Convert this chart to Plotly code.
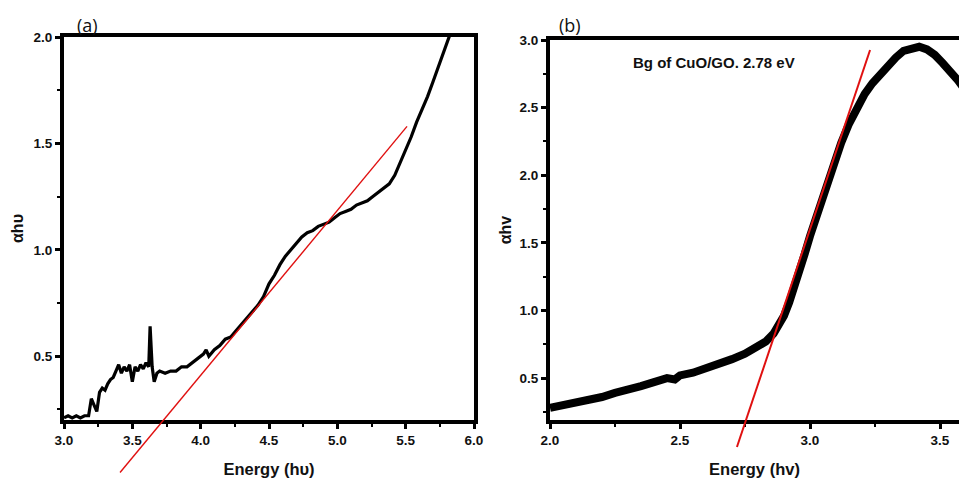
import plotly.graph_objects as go

# ---------------- data: panel (a) ----------------
a_energy = [3.00, 3.03, 3.06, 3.09, 3.12, 3.15, 3.18, 3.20, 3.22, 3.24, 3.26, 3.28, 3.30, 3.32,
            3.34, 3.36, 3.38, 3.40, 3.42, 3.44, 3.46, 3.48, 3.50, 3.52, 3.54, 3.56, 3.58, 3.60,
            3.62, 3.63, 3.645, 3.66, 3.68, 3.70, 3.74, 3.78, 3.82, 3.86, 3.90, 3.94, 3.98, 4.02,
            4.04, 4.06, 4.10, 4.14, 4.18, 4.22, 4.26, 4.30, 4.34, 4.38, 4.42, 4.46, 4.50, 4.54,
            4.58, 4.62, 4.66, 4.70, 4.74, 4.78, 4.82, 4.86, 4.90, 4.94, 4.98, 5.02, 5.06, 5.10,
            5.14, 5.18, 5.22, 5.26, 5.30, 5.34, 5.38, 5.42, 5.46, 5.50, 5.54, 5.58, 5.62, 5.66,
            5.70, 5.74, 5.78, 5.82, 5.84]
a_ahv = [0.21, 0.22, 0.21, 0.22, 0.21, 0.22, 0.22, 0.30, 0.27, 0.24, 0.33, 0.35, 0.34, 0.37,
         0.39, 0.40, 0.43, 0.46, 0.42, 0.45, 0.43, 0.46, 0.38, 0.45, 0.43, 0.46, 0.44, 0.47,
         0.45, 0.64, 0.45, 0.38, 0.42, 0.43, 0.42, 0.43, 0.43, 0.45, 0.45, 0.47, 0.49, 0.51,
         0.53, 0.50, 0.53, 0.55, 0.58, 0.59, 0.62, 0.65, 0.68, 0.71, 0.74, 0.78, 0.84, 0.88,
         0.93, 0.97, 1.00, 1.03, 1.06, 1.08, 1.09, 1.11, 1.12, 1.13, 1.15, 1.17, 1.18, 1.19,
         1.21, 1.22, 1.23, 1.25, 1.27, 1.29, 1.31, 1.35, 1.41, 1.47, 1.53, 1.60, 1.66, 1.72,
         1.79, 1.86, 1.93, 2.00, 2.04]
a_fit_x = [3.41, 5.51]
a_fit_y = [-0.047, 1.58]

# ---------------- data: panel (b) ----------------
b_energy = [2.00, 2.05, 2.10, 2.15, 2.20, 2.25, 2.30, 2.35, 2.40, 2.45, 2.48, 2.50, 2.55, 2.60,
            2.65, 2.70, 2.75, 2.80, 2.83, 2.86, 2.88, 2.90, 2.92, 2.94, 2.96, 2.98, 3.00, 3.02,
            3.04, 3.06, 3.08, 3.10, 3.12, 3.15, 3.18, 3.21, 3.24, 3.27, 3.30, 3.33, 3.36, 3.39,
            3.42, 3.45, 3.48, 3.51, 3.54, 3.57, 3.60]
b_ahv = [0.28, 0.30, 0.31, 0.34, 0.36, 0.39, 0.41, 0.44, 0.47, 0.50, 0.49, 0.52, 0.54, 0.57,
         0.60, 0.64, 0.68, 0.73, 0.77, 0.83, 0.89, 0.96, 1.06, 1.17, 1.29, 1.42, 1.55, 1.67,
         1.79, 1.91, 2.03, 2.14, 2.24, 2.38, 2.50, 2.60, 2.68, 2.75, 2.81, 2.87, 2.92, 2.94,
         2.95, 2.93, 2.89, 2.83, 2.77, 2.70, 2.62]
b_fit_x = [2.719, 3.231]
b_fit_y = [-0.01, 2.926]

a_xticks = [3.0, 3.5, 4.0, 4.5, 5.0, 5.5, 6.0]
a_yticks = [0.5, 1.0, 1.5, 2.0]
b_xticks = [2.0, 2.5, 3.0, 3.5]
b_yticks = [0.5, 1.0, 1.5, 2.0, 2.5, 3.0]

W, H = 959, 482
FONT = "Liberation Sans, Arial, sans-serif"

# panel geometry (paper fractions)
a_xdom = [64 / W, 474 / W]
a_ydom = [1 - 420 / H, 1 - 37 / H]
a_xrng = [3.0, 6.0]
a_yrng = [0.2, 2.0]
b_xdom = [550 / W, 1.0]
b_ydom = [1 - 420 / H, 1 - 40 / H]
b_xrng = [2.0, 2.0 + (959 - 550) / 260.0]
b_yrng = [0.19, 3.0]


def extend(dom, rng):
    s = (rng[1] - rng[0]) / (dom[1] - dom[0])
    return [rng[0] - dom[0] * s, rng[1] + (1 - dom[1]) * s]


def bold(vals):
    return ["<b>%.1f</b>" % v for v in vals]


fig = go.Figure()
fig.add_trace(go.Scatter(x=a_energy, y=a_ahv, mode="lines", line=dict(color="black", width=3.2),
                         xaxis="x", yaxis="y", showlegend=False))
fig.add_trace(go.Scatter(x=b_energy, y=b_ahv, mode="lines", line=dict(color="black", width=8),
                         xaxis="x2", yaxis="y2", showlegend=False))
fig.add_trace(go.Scatter(x=a_fit_x, y=a_fit_y, mode="lines", line=dict(color="#e01010", width=1.4),
                         xaxis="x3", yaxis="y3", showlegend=False))
fig.add_trace(go.Scatter(x=b_fit_x, y=b_fit_y, mode="lines", line=dict(color="#e01010", width=2),
                         xaxis="x4", yaxis="y4", showlegend=False))

tickfont = dict(family=FONT, size=13.5, color="#111111")
titlefont = dict(family=FONT, size=16.5, color="#111111")
ytitlefont = dict(family=FONT, size=16, color="#111111")
minor = dict(ticks="outside", ticklen=3, tickwidth=2, tickcolor="black")

common = dict(showgrid=False, zeroline=False, linecolor="black", linewidth=4,
              ticks="outside", ticklen=5, tickwidth=3, tickcolor="black",
              tickfont=tickfont, automargin=False)

fig.update_layout(
    width=W, height=H,
    margin=dict(l=0, r=0, t=0, b=0),
    paper_bgcolor="white", plot_bgcolor="rgba(0,0,0,0)",
    font=dict(family=FONT),
    xaxis=dict(domain=a_xdom, range=a_xrng, anchor="y", mirror=True, tickvals=a_xticks,
               ticktext=bold(a_xticks), minor=dict(dtick=0.25, **minor),
               title=dict(text="<b>Energy (hυ)</b>", font=titlefont, standoff=17), **common),
    yaxis=dict(domain=a_ydom, range=a_yrng, anchor="x", mirror=True, tickvals=a_yticks,
               ticktext=bold(a_yticks), minor=dict(tick0=0, dtick=0.25, **minor),
               title=dict(text="<b>αhυ</b>", font=ytitlefont, standoff=7),
               **common),
    xaxis2=dict(domain=b_xdom, range=b_xrng, anchor="y2", mirror=True, tickvals=b_xticks,
                ticktext=bold(b_xticks), minor=dict(dtick=0.25, **minor),
                title=dict(text="<b>Energy (hv)</b>", font=titlefont, standoff=17), **common),
    yaxis2=dict(domain=b_ydom, range=b_yrng, anchor="x2", mirror=False, tickvals=b_yticks,
                ticktext=bold(b_yticks), minor=dict(tick0=0, dtick=0.25, **minor),
                title=dict(text="<b>αhv</b>", font=ytitlefont, standoff=5),
                **common),
    xaxis3=dict(domain=a_xdom, range=a_xrng, anchor="y3", visible=False),
    yaxis3=dict(domain=[0, 1], range=extend(a_ydom, a_yrng), anchor="x3", visible=False),
    xaxis4=dict(domain=b_xdom, range=b_xrng, anchor="y4", visible=False),
    yaxis4=dict(domain=[0, 1], range=extend(b_ydom, b_yrng), anchor="x4", visible=False),
    annotations=[
        dict(text="(a)", xref="paper", yref="paper", x=75 / W, y=1 - 25 / H, xanchor="left",
             yanchor="middle", showarrow=False, font=dict(family="Open Sans, sans-serif", size=18, color="#111")),
        dict(text="(b)", xref="paper", yref="paper", x=557 / W, y=1 - 25 / H, xanchor="left",
             yanchor="middle", showarrow=False, font=dict(family="Open Sans, sans-serif", size=18, color="#111")),
        dict(text="<b>Bg of CuO/GO. 2.78 eV</b>", xref="paper", yref="paper", x=714 / W, y=1 - 63 / H,
             xanchor="center", yanchor="middle", showarrow=False,
             font=dict(family=FONT, size=15, color="#111")),
    ],
)

fig.write_html("out.html", config={"displayModeBar": False},
               post_script="document.body.style.margin='0';")
